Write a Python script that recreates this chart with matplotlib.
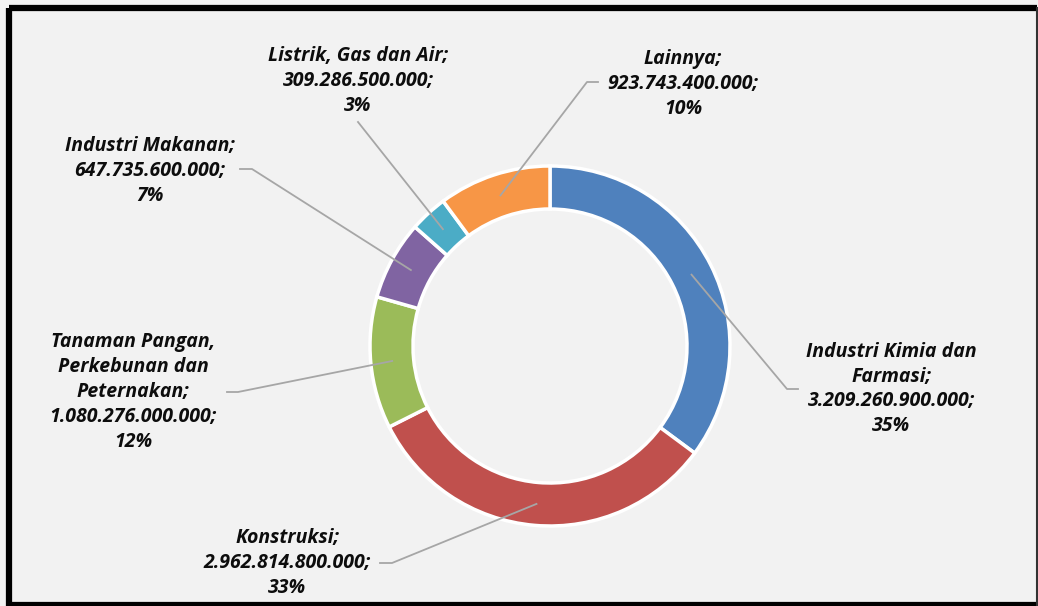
import numpy as np
import matplotlib
matplotlib.use("Agg")
import matplotlib.pyplot as plt

# data (Rupiah)
sectors = ["Industri Kimia dan\nFarmasi", "Konstruksi", "Tanaman Pangan,\nPerkebunan dan\nPeternakan",
           "Industri Makanan", "Listrik, Gas dan Air", "Lainnya"]
values = [3209260900000, 2962814800000, 1080276000000, 647735600000, 309286500000, 923743400000]
percents = [35, 33, 12, 7, 3, 10]
colors = ["#4F81BD", "#C0504D", "#9BBB59", "#8064A2", "#4BACC6", "#F79646"]

# label layout in pixel coords (y measured from top): text centre, elbow start, elbow end
label_pos = [(891, 389), (287, 563), (133, 392), (150, 171), (358, 81), (683, 84)]
elbows = [((798, 389), (787, 389)), ((380, 563), (392, 563)), ((227, 392), (238, 392)),
          ((240, 169), (252, 169)), ((358, 122), (358, 122)), ((598, 82), (587, 82))]

W, H = 1038, 606
CX, CY = 550, H - 346
R_OUT, RING = 180, 43
BG = "#F2F2F2"

def fmt_id(v):
    return f"{v:,}".replace(",", ".")

fig = plt.figure(figsize=(W / 100, H / 100), dpi=100, facecolor=BG)
ax = fig.add_axes([0, 0, 1, 1])
ax.set_facecolor(BG)
ax.axis("off")

wedges, _ = ax.pie(values, colors=colors, startangle=90, counterclock=False,
                   center=(CX, CY), radius=R_OUT,
                   wedgeprops=dict(width=RING, edgecolor="white", linewidth=2.5))
ax.set_xlim(0, W)
ax.set_ylim(0, H)
ax.set_aspect("equal")

r_mid = R_OUT - RING / 2
for w, name, v, pct, (tx, ty), (e0, e1) in zip(wedges, sectors, values, percents, label_pos, elbows):
    ang = np.deg2rad((w.theta1 + w.theta2) / 2)
    px, py = CX + r_mid * np.cos(ang), CY + r_mid * np.sin(ang)
    ax.plot([e0[0], e1[0], px], [H - e0[1], H - e1[1], py], color="#A6A6A6", lw=1.3, zorder=5)
    ax.text(tx, H - ty, f"{name};\n{fmt_id(v)};\n{pct}%", ha="center", va="center",
            fontsize=14, fontweight="bold", fontstyle="italic", family=["Open Sans", "DejaVu Sans"],
            color="#0D0D0D", linespacing=1.32, zorder=6)

# chart frame
ax.plot([9, 9], [H - 8, 0], color="black", lw=4.5, solid_capstyle="butt")
ax.plot([9, W - 1.5], [H - 8, H - 8], color="black", lw=4.5, solid_capstyle="butt")
ax.plot([6, W], [1.5, 1.5], color="black", lw=4.5, solid_capstyle="butt")
ax.plot([W - 1.5, W - 1.5], [H - 8, 0], color="#333333", lw=1.5)

fig.savefig("out.png", dpi=100, facecolor=BG)
